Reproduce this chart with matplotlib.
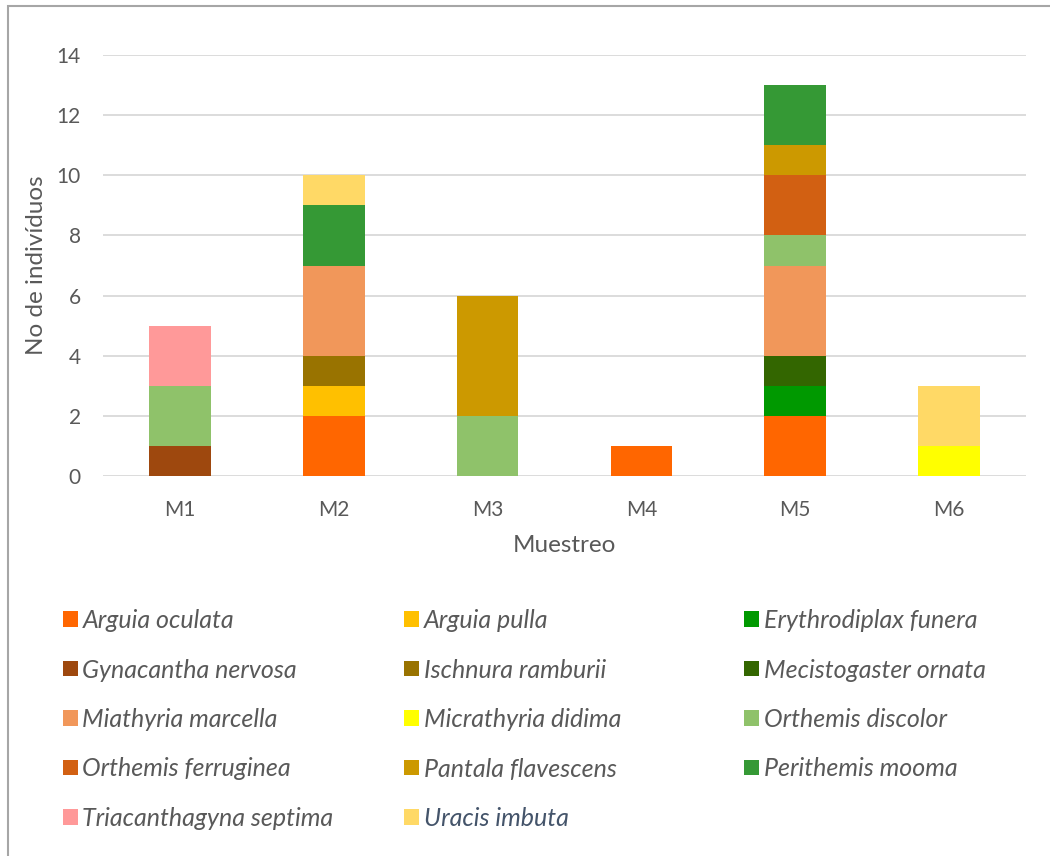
import numpy as np
import matplotlib
matplotlib.use("Agg")
import matplotlib.pyplot as plt
from matplotlib.patches import Rectangle

plt.rcParams['font.family'] = ['Lato', 'DejaVu Sans']

# Data
samples = ["M1", "M2", "M3", "M4", "M5", "M6"]
species = [
    "Arguia oculata", "Arguia pulla", "Erythrodiplax funera",
    "Gynacantha nervosa", "Ischnura ramburii", "Mecistogaster ornata",
    "Miathyria marcella", "Micrathyria didima", "Orthemis discolor",
    "Orthemis ferruginea", "Pantala flavescens", "Perithemis mooma",
    "Triacanthagyna septima", "Uracis imbuta",
]
counts = [
    [0, 2, 0, 1, 2, 0],  # Arguia oculata
    [0, 1, 0, 0, 0, 0],  # Arguia pulla
    [0, 0, 0, 0, 1, 0],  # Erythrodiplax funera
    [1, 0, 0, 0, 0, 0],  # Gynacantha nervosa
    [0, 1, 0, 0, 0, 0],  # Ischnura ramburii
    [0, 0, 0, 0, 1, 0],  # Mecistogaster ornata
    [0, 3, 0, 0, 3, 0],  # Miathyria marcella
    [0, 0, 0, 0, 0, 1],  # Micrathyria didima
    [2, 0, 2, 0, 1, 0],  # Orthemis discolor
    [0, 0, 0, 0, 2, 0],  # Orthemis ferruginea
    [0, 0, 4, 0, 1, 0],  # Pantala flavescens
    [0, 2, 0, 0, 2, 0],  # Perithemis mooma
    [2, 0, 0, 0, 0, 0],  # Triacanthagyna septima
    [0, 1, 0, 0, 0, 2],  # Uracis imbuta
]
colors = [
    "#FF6600", "#FFC000", "#009900", "#9E480E", "#997300", "#336600",
    "#F1975A", "#FFFF00", "#8FC26A", "#D26012", "#CC9900", "#359935",
    "#FF9999", "#FFD966",
]

text_col = "#595959"

fig = plt.figure(figsize=(10.5, 8.56), dpi=100)
ax = fig.add_axes([103 / 1050, 1 - 476 / 856, 923 / 1050, 421 / 856])

x = np.arange(len(samples))
bottom = np.zeros(len(samples))
handles = []
for name, vals, c in zip(species, counts, colors):
    vals = np.array(vals, dtype=float)
    b = ax.bar(x, vals, width=0.40, bottom=bottom, color=c, label=name,
               zorder=3, linewidth=0)
    handles.append(b)
    bottom += vals

ax.set_xlim(-0.5, len(samples) - 0.5)
ax.set_ylim(0, 14)
ax.set_yticks(np.arange(0, 15, 2))
ax.set_xticks(x)
ax.set_xticklabels(samples)
ax.yaxis.grid(True, color="#D9D9D9", linewidth=1.3, zorder=0)
ax.set_axisbelow(True)
for s in ax.spines.values():
    s.set_visible(False)
ax.tick_params(axis="both", length=0, labelsize=15, labelcolor=text_col)
ax.tick_params(axis="y", pad=16)
ax.tick_params(axis="x", pad=17)
ax.set_ylabel("No de indivíduos", fontsize=17.5, color=text_col, labelpad=7)
ax.set_xlabel("Muestreo", fontsize=17.5, color=text_col, labelpad=11)

# legend: three columns, row-major order like the original
col_x = [63 / 1050, 404 / 1050, 744 / 1050]
top_y = 1 - 609 / 856
for ci in range(3):
    idx = list(range(ci, len(species), 3))
    leg = fig.legend([handles[i] for i in idx], [species[i] for i in idx],
                     loc="upper left", bbox_to_anchor=(col_x[ci], top_y),
                     frameon=False, fontsize=18, handlelength=0.58,
                     handleheight=0.58, handletextpad=0.2, labelspacing=1.06,
                     borderaxespad=0, borderpad=0)
    for i, t in zip(idx, leg.get_texts()):
        t.set_style("italic")
        t.set_color("#44546A" if species[i] == "Uracis imbuta" else text_col)

# chart border (left/top visible)
fig.patches.append(Rectangle((8 / 1050, -0.01), 1.02, 1 - 6 / 856 + 0.01,
                             transform=fig.transFigure, fill=False,
                             edgecolor="#A6A6A6", linewidth=1.5))

fig.savefig("out.png", dpi=100)
